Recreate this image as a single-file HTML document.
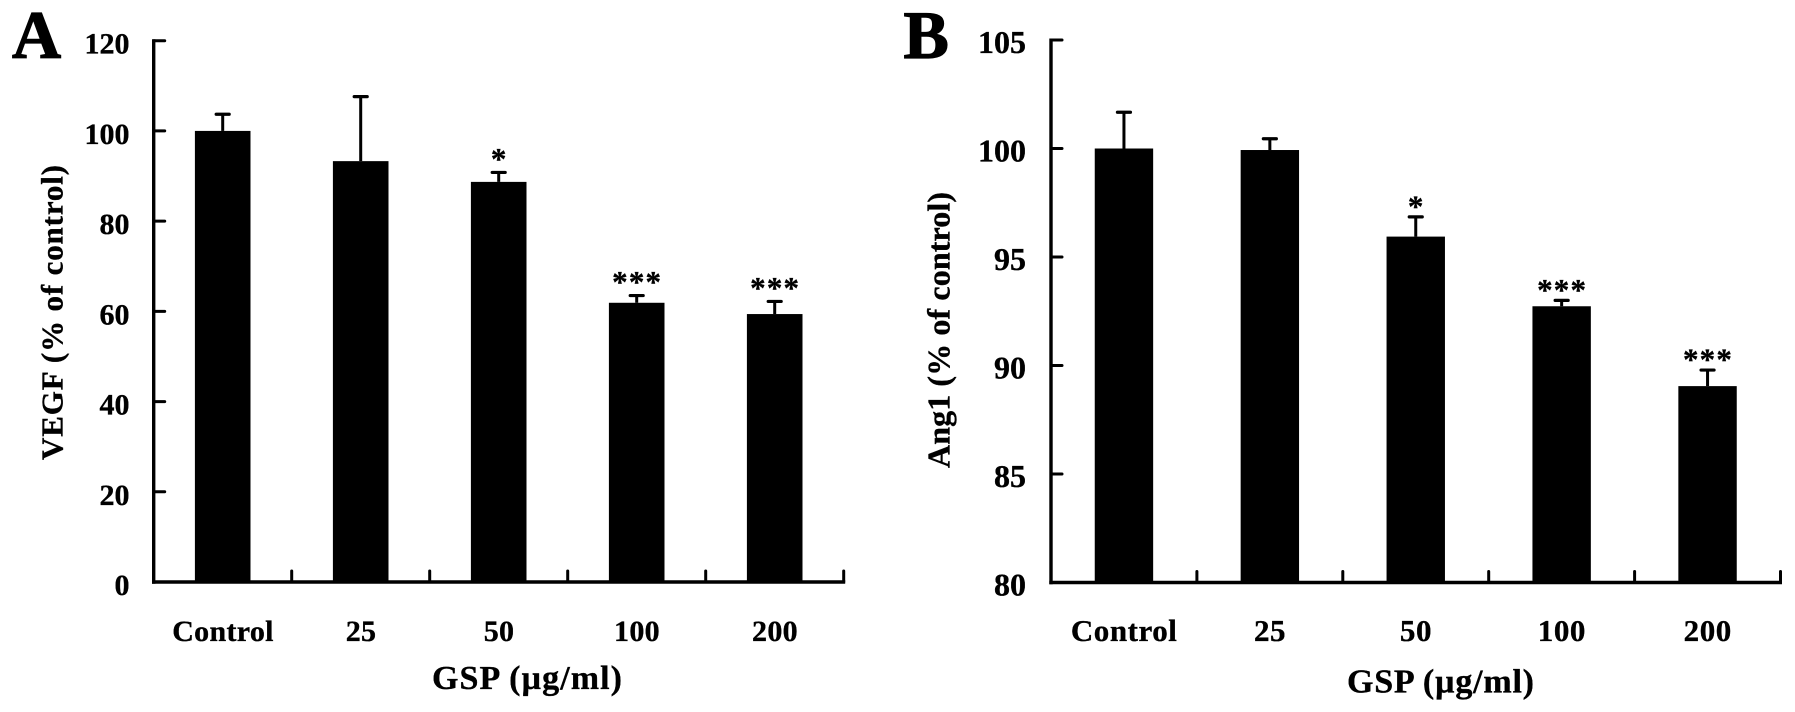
<!DOCTYPE html>
<html lang="en">
<head>
<meta charset="utf-8">
<title>VEGF and Ang1 bar charts</title>
<style>
  html, body { margin: 0; padding: 0; background: #fff; }
  svg { display: block; }
  text { font-family: "Liberation Serif", serif; font-weight: bold; fill: #000; stroke: #000; stroke-width: 0.35px; }
</style>
</head>
<body>
<svg id="figure" xmlns="http://www.w3.org/2000/svg" width="1795" height="712" viewBox="0 0 1795 712">
  <rect x="0" y="0" width="1795" height="712" fill="#fff"/>
  <text x="12" y="58" font-size="68" style="stroke-width:1.2px">A</text>
  <text x="903.5" y="58" font-size="68" style="stroke-width:1.2px">B</text>
  <text transform="translate(62.5,460) rotate(-90)" font-size="31" textLength="295" lengthAdjust="spacing">VEGF (% of control)</text>
  <text transform="translate(949.5,468) rotate(-90)" font-size="32" textLength="276" lengthAdjust="spacing">Ang1 (% of control)</text>
  <text x="432" y="689" font-size="34" textLength="190" lengthAdjust="spacing">GSP (µg/ml)</text>
  <text x="1347" y="692.5" font-size="34" textLength="187" lengthAdjust="spacing">GSP (µg/ml)</text>
</svg>
<script>
var categories = ['Control', '25', '50', '100', '200'];

var valuesA = [100, 93.3, 88.7, 61.9, 59.4];
var errorsA = [3.7, 14.3, 2.1, 1.6, 2.8];
var significanceA = ['', '', '*', '***', '***'];
var yTicksA = [0, 20, 40, 60, 80, 100, 120];

var valuesB = [100, 99.93, 95.94, 92.73, 89.05];
var errorsB = [1.67, 0.52, 0.91, 0.27, 0.74];
var significanceB = ['', '', '*', '***', '***'];
var yTicksB = [80, 85, 90, 95, 100, 105];

var svg = document.getElementById('figure');
var NS = 'http://www.w3.org/2000/svg';

function make(tag, attrs, parent) {
  var node = document.createElementNS(NS, tag);
  for (var k in attrs) { node.setAttribute(k, attrs[k]); }
  parent.appendChild(node);
  return node;
}

function drawChart(suffix, opts, values, errors, significance, yTicks) {
  var group = make('g', {}, svg);
  
  

  var yMin = yTicks[0];
  var yMax = yTicks[yTicks.length - 1];
  function yScale(v) {
    return opts.yBottom + (v - yMin) * (opts.yTop - opts.yBottom) / (yMax - yMin);
  }
  function xBand(i) {
    return opts.xLeft + i * opts.step;
  }
  function xCenter(i) {
    return xBand(i) + opts.step / 2;
  }

  values.forEach(function (v, i) {
    var cx = xCenter(i);
    var top = yScale(v);
    var errTop = yScale(v + errors[i]);

    var stem = make('line', { x1: cx, x2: cx, y1: top, y2: errTop, stroke: '#000', 'stroke-width': 3 }, group);
    
    

    var cap = make('line', { x1: cx - 6.5, x2: cx + 6.5, y1: errTop, y2: errTop, stroke: '#000', 'stroke-width': 3.2, 'stroke-linecap': 'round' }, group);
    
    

    var bar = make('rect', { x: cx - opts.barWidth / 2, y: top, width: opts.barWidth, height: opts.yBottom - top + 1, fill: '#000' }, group);
    
    

    if (significance[i]) {
      var star = make('text', { x: cx + 0.5, y: errTop - opts.starGap, 'font-size': 31, 'text-anchor': 'middle', 'letter-spacing': 1.2 }, group);
      star.textContent = significance[i];
      
      
    }

    var label = make('text', { x: cx + opts.labelDx, y: 641, 'font-size': opts.xFont, 'text-anchor': 'middle', 'letter-spacing': opts.xSpacing }, group);
    label.textContent = categories[i];
    
    

    var xTick = make('line', { x1: xBand(i + 1), x2: xBand(i + 1), y1: opts.yBottom, y2: opts.yBottom - 11, stroke: '#000', 'stroke-width': 3, 'stroke-linecap': 'round' }, group);
    
    
  });

  yTicks.forEach(function (t, i) {
    var y = yScale(t);
    if (i > 0) {
      var tick = make('line', { x1: opts.xLeft, x2: opts.xLeft + 11, y1: y, y2: y, stroke: '#000', 'stroke-width': 3, 'stroke-linecap': 'round' }, group);
      
      
    }
    var label = make('text', { x: opts.yLabelRight, y: y + 13, 'font-size': opts.yFont, 'text-anchor': 'end' }, group);
    label.textContent = String(t);
    
    
  });

  var yAxis = make('line', { x1: opts.xLeft, x2: opts.xLeft, y1: opts.yTop - 1.5, y2: opts.yBottom + 1.75, stroke: '#000', 'stroke-width': 3.4 }, group);
  
  

  var xAxis = make('line', { x1: opts.xLeft - 1.7, x2: xBand(values.length) + 1.5, y1: opts.yBottom, y2: opts.yBottom, stroke: '#000', 'stroke-width': 3.4 }, group);
  
  
}

drawChart('a', {
  xLeft: 153.7, step: 138, barWidth: 55.6, yTop: 40.7, yBottom: 582,
  yLabelRight: 129.5, yFont: 30, xFont: 30, xSpacing: 0.3, labelDx: 0.3, starGap: 3.6
}, valuesA, errorsA, significanceA, yTicksA);

drawChart('b', {
  xLeft: 1051, step: 145.9, barWidth: 58.4, yTop: 40, yBottom: 582.5,
  yLabelRight: 1026, yFont: 32, xFont: 31, xSpacing: 0.55, labelDx: 0.2, starGap: 0.5
}, valuesB, errorsB, significanceB, yTicksB);
</script>
</body>
</html>
